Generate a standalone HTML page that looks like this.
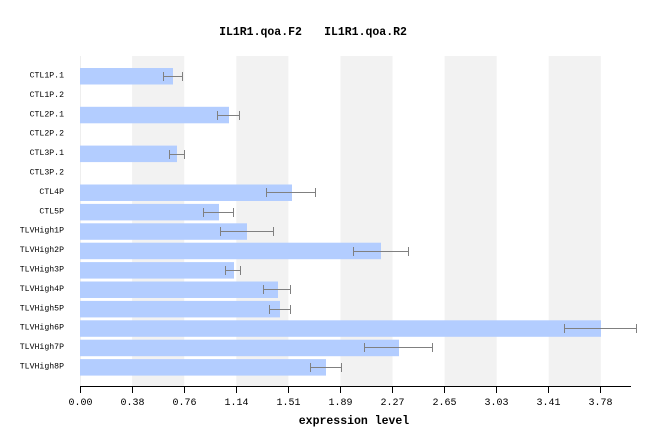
<!DOCTYPE html>
<html><head><meta charset="utf-8"><style>
html,body{margin:0;padding:0;background:#fff;}
svg{display:block;}
text{font-family:"Liberation Mono","DejaVu Sans Mono",monospace;fill:#000;}
</style></head><body>
<svg width="656" height="446" viewBox="0 0 656 446" xmlns="http://www.w3.org/2000/svg">
<rect width="656" height="446" fill="#fff"/>
<!-- title -->
<text x="260.5" y="35" font-size="11.5" font-weight="bold" text-anchor="middle">IL1R1.qoa.F2</text>
<text x="365.5" y="35" font-size="11.5" font-weight="bold" text-anchor="middle">IL1R1.qoa.R2</text>
<!-- bands -->
<g fill="#f2f2f2">
<rect x="132.1" y="56" width="52.1" height="330"/>
<rect x="236.3" y="56" width="52.1" height="330"/>
<rect x="340.4" y="56" width="52.1" height="330"/>
<rect x="444.6" y="56" width="52.1" height="330"/>
<rect x="548.7" y="56" width="52.1" height="330"/>
</g>
<line x1="80.5" y1="56" x2="80.5" y2="386" stroke="#eeeeee" stroke-width="1"/>
<!-- bars -->
<g fill="#b3cdff">
<rect x="80" y="68" width="93" height="16.5"/>
<rect x="80" y="106.8" width="149" height="16.5"/>
<rect x="80" y="145.6" width="97" height="16.5"/>
<rect x="80" y="184.5" width="212" height="16.5"/>
<rect x="80" y="203.9" width="139" height="16.5"/>
<rect x="80" y="223.3" width="167" height="16.5"/>
<rect x="80" y="242.7" width="301" height="16.5"/>
<rect x="80" y="262.1" width="154" height="16.5"/>
<rect x="80" y="281.5" width="198" height="16.5"/>
<rect x="80" y="300.9" width="200" height="16.5"/>
<rect x="80" y="320.3" width="521" height="16.5"/>
<rect x="80" y="339.7" width="319" height="16.5"/>
<rect x="80" y="359.1" width="246" height="16.5"/>
</g>
<!-- error bars -->
<g stroke="#808080" stroke-width="1" fill="none">
<path d="M163.5 76.5H182.5M163.5 72v9M182.5 72v9"/>
<path d="M217.5 115.5H239.5M217.5 111v9M239.5 111v9"/>
<path d="M169.5 154.5H184.5M169.5 150v9M184.5 150v9"/>
<path d="M266.5 192.5H315.5M266.5 188v9M315.5 188v9"/>
<path d="M203.5 212.5H233.5M203.5 208v9M233.5 208v9"/>
<path d="M220.5 231.5H273.5M220.5 227v9M273.5 227v9"/>
<path d="M353.5 251.5H408.5M353.5 247v9M408.5 247v9"/>
<path d="M225.5 270.5H240.5M225.5 266v9M240.5 266v9"/>
<path d="M263.5 289.5H290.5M263.5 285v9M290.5 285v9"/>
<path d="M269.5 309.5H290.5M269.5 305v9M290.5 305v9"/>
<path d="M564.5 328.5H636.5M564.5 324v9M636.5 324v9"/>
<path d="M364.5 347.5H432.5M364.5 343v9M432.5 343v9"/>
<path d="M310.5 367.5H341.5M310.5 363v9M341.5 363v9"/>
</g>
<!-- category labels -->
<g font-size="8.2" text-anchor="end">
<text x="64" y="77.5">CTL1P.1</text>
<text x="64" y="96.9">CTL1P.2</text>
<text x="64" y="116.3">CTL2P.1</text>
<text x="64" y="135.7">CTL2P.2</text>
<text x="64" y="155.1">CTL3P.1</text>
<text x="64" y="174.5">CTL3P.2</text>
<text x="64" y="193.9">CTL4P</text>
<text x="64" y="213.3">CTL5P</text>
<text x="64" y="232.7">TLVHigh1P</text>
<text x="64" y="252.1">TLVHigh2P</text>
<text x="64" y="271.5">TLVHigh3P</text>
<text x="64" y="290.9">TLVHigh4P</text>
<text x="64" y="310.3">TLVHigh5P</text>
<text x="64" y="329.7">TLVHigh6P</text>
<text x="64" y="349.1">TLVHigh7P</text>
<text x="64" y="368.5">TLVHigh8P</text>
</g>
<!-- axis -->
<g stroke="#000" stroke-width="1">
<line x1="80" y1="386.5" x2="631" y2="386.5"/>
<path d="M80.5 386v7M132.5 386v7M184.5 386v7M236.5 386v7M288.5 386v7M340.5 386v7M392.5 386v7M444.5 386v7M496.5 386v7M548.5 386v7M600.5 386v7"/>
</g>
<g font-size="10" text-anchor="middle">
<text x="80.5" y="405">0.00</text>
<text x="132.5" y="405">0.38</text>
<text x="184.5" y="405">0.76</text>
<text x="236.5" y="405">1.14</text>
<text x="288.5" y="405">1.51</text>
<text x="340.5" y="405">1.89</text>
<text x="392.5" y="405">2.27</text>
<text x="444.5" y="405">2.65</text>
<text x="496.5" y="405">3.03</text>
<text x="548.5" y="405">3.41</text>
<text x="600.5" y="405">3.78</text>
</g>
<text x="354" y="424" font-size="11.5" font-weight="bold" text-anchor="middle">expression level</text>
</svg>
</body></html>
